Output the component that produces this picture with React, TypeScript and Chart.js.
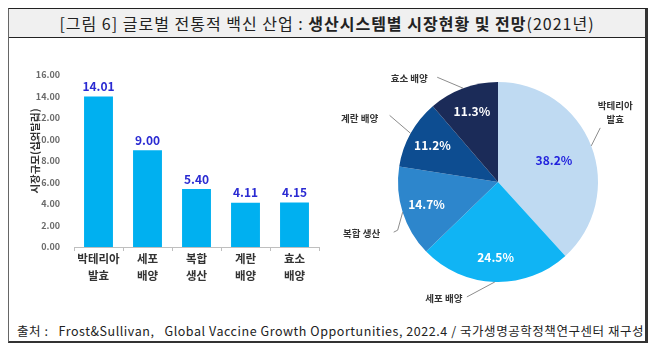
import React, { useEffect, useRef } from "react";
import { Chart, registerables } from "chart.js";

Chart.register(...registerables);

const barCategories: string[][] = [
  ["박테리아", "발효"],
  ["세포", "배양"],
  ["복합", "생산"],
  ["계란", "배양"],
  ["효소", "배양"],
];
const barValues: number[] = [14.01, 9.0, 5.4, 4.11, 4.15];
const yAxisTitle = "시장규모(십억달러)";

const pieLabels: string[][] = [
  ["박테리아", "발효"],
  ["세포 배양"],
  ["복합 생산"],
  ["계란 배양"],
  ["효소 배양"],
];
const pieValues: number[] = [38.2, 24.5, 14.7, 11.2, 11.3];
const pieColors: string[] = ["#bfdaf2", "#10b4f4", "#2d86cc", "#0d4d91", "#1b2b58"];

const titlePlain = "[그림 6] 글로벌 전통적 백신 산업 : ";
const titleBold = "생산시스템별 시장현황 및 전망";
const titleTail = "(2021년)";
const sourceText =
  "출처 :   Frost&Sullivan,   Global Vaccine Growth Opportunities, 2022.4 / 국가생명공학정책연구센터 재구성";

const FONT = "'Noto Sans CJK KR', 'Noto Sans', sans-serif";

// styling: leader line end and label center offsets from slice edge point
const leaderOffsets = [
  { lx: 9, ly: -18, tx: 24, ty: -33 },
  { lx: -28, ly: 15, tx: -51, ty: 16 },
  { lx: -5, ly: 18, tx: -41, ty: 21 },
  { lx: -21, ly: -18, tx: -51, ty: -15 },
  { lx: -26, ly: -11, tx: -54, ty: -10 },
];

function BarChart() {
  const ref = useRef<HTMLCanvasElement | null>(null);
  useEffect(() => {
    if (!ref.current) return;
    const valuePlugin = {
      id: "barValues",
      afterDatasetsDraw(chart: any) {
        const ctx = chart.ctx;
        const meta = chart.getDatasetMeta(0);
        ctx.save();
        ctx.font = `bold 12px ${FONT}`;
        ctx.fillStyle = "#2a2ad2";
        ctx.textAlign = "center";
        ctx.textBaseline = "middle";
        meta.data.forEach((el: any, i: number) => {
          ctx.fillText(barValues[i].toFixed(2), el.x, el.y - 10);
        });
        // y axis title
        ctx.translate(15, 96);
        ctx.rotate(-Math.PI / 2);
        ctx.font = `bold 10.5px ${FONT}`;
        ctx.fillStyle = "#333";
        ctx.fillText(yAxisTitle, 0, 0);
        ctx.restore();
      },
    };
    const chart = new Chart(ref.current, {
      type: "bar",
      data: {
        labels: barCategories,
        datasets: [
          {
            data: barValues,
            backgroundColor: "#00b0f0",
            barPercentage: 0.59,
            categoryPercentage: 1,
          },
        ],
      },
      options: {
        responsive: false,
        animation: false,
        layout: { padding: { top: 20, right: 11, left: 0, bottom: 0 } },
        plugins: { legend: { display: false }, tooltip: { enabled: false } },
        scales: {
          x: {
            grid: {
              display: true,
              drawOnChartArea: false,
              offset: true,
              tickLength: 4,
              color: "#bfbfbf",
            },
            border: { color: "#bfbfbf" },
            ticks: {
              font: { family: FONT, size: 11.5, weight: "bold", lineHeight: 1.4 },
              color: "#333",
              padding: 0,
              maxRotation: 0,
            },
            afterFit: (s: any) => {
              s.height = 43;
            },
          },
          y: {
            min: 0,
            max: 16,
            grid: { display: false },
            border: { display: false },
            ticks: {
              stepSize: 2,
              callback: (v: any) => Number(v).toFixed(2),
              font: { family: FONT, size: 9, weight: "bold" },
              color: "#6a6a6a",
              padding: 6,
            },
            afterFit: (s: any) => {
              s.width = 54;
            },
          },
        },
      } as any,
      plugins: [valuePlugin],
    });
    return () => chart.destroy();
  }, []);
  return (
    <canvas
      ref={ref}
      width={310}
      height={235}
      style={{ position: "absolute", left: 11, top: 46, width: 310, height: 235 }}
    />
  );
}

function PieChart() {
  const ref = useRef<HTMLCanvasElement | null>(null);
  useEffect(() => {
    if (!ref.current) return;
    const labelPlugin = {
      id: "pieLabels",
      afterDatasetsDraw(chart: any) {
        const ctx = chart.ctx;
        const meta = chart.getDatasetMeta(0);
        const total = pieValues.reduce((a, b) => a + b, 0);
        ctx.save();
        meta.data.forEach((arc: any, i: number) => {
          const mid = (arc.startAngle + arc.endAngle) / 2;
          const r = arc.outerRadius;
          const f = i === 0 ? 0.6 : 0.75;
          ctx.font = `bold 12px ${FONT}`;
          ctx.fillStyle = i === 0 ? "#2222dd" : "#ffffff";
          ctx.textAlign = "center";
          ctx.textBaseline = "middle";
          const pct = ((pieValues[i] / total) * 100).toFixed(1) + "%";
          ctx.fillText(pct, arc.x + Math.cos(mid) * r * f, arc.y + Math.sin(mid) * r * f);

          const ex = arc.x + Math.cos(mid) * r;
          const ey = arc.y + Math.sin(mid) * r;
          const o = leaderOffsets[i];
          ctx.strokeStyle = "#8c8c8c";
          ctx.lineWidth = 1;
          ctx.beginPath();
          ctx.moveTo(ex, ey);
          ctx.lineTo(ex + o.lx, ey + o.ly);
          if (i === 2) ctx.lineTo(ex + o.lx - 4, ey + o.ly + 2);
          ctx.stroke();

          ctx.font = `bold 9.5px ${FONT}`;
          ctx.fillStyle = "#333";
          const lines = pieLabels[i];
          const lh = 14;
          lines.forEach((ln, k) => {
            ctx.fillText(ln, ex + o.tx, ey + o.ty + (k - (lines.length - 1) / 2) * lh);
          });
        });
        ctx.restore();
      },
    };
    const chart = new Chart(ref.current, {
      type: "pie",
      data: {
        labels: pieLabels.map((l) => l.join(" ")),
        datasets: [{ data: pieValues, backgroundColor: pieColors, borderWidth: 0 }],
      },
      options: {
        responsive: false,
        animation: false,
        layout: { padding: { left: 58, right: 47, top: 32, bottom: 28 } },
        plugins: { legend: { display: false }, tooltip: { enabled: false } },
      } as any,
      plugins: [labelPlugin],
    });
    return () => chart.destroy();
  }, []);
  return (
    <canvas
      ref={ref}
      width={305}
      height={260}
      style={{ position: "absolute", left: 331, top: 41, width: 305, height: 260 }}
    />
  );
}

export default function App() {
  return (
    <div
      style={{
        position: "relative",
        width: 640,
        height: 335,
        boxSizing: "border-box",
        borderTop: "1px solid #222",
        borderLeft: "1px solid #666",
        borderRight: "3px solid #333",
        borderBottom: "2px solid #333",
        background: "#fff",
        fontFamily: FONT,
      }}
    >
      <div
        style={{
          position: "absolute",
          left: 0,
          top: 0,
          width: 636,
          height: 29,
          boxSizing: "border-box",
          background: "#f0f0f0",
          borderBottom: "1px solid #222",
          textAlign: "center",
          lineHeight: "28px",
          fontSize: 16,
          letterSpacing: "1px",
          color: "#222",
          whiteSpace: "pre",
        }}
      >
        {titlePlain}
        <b>{titleBold}</b>
        {titleTail}
      </div>
      <BarChart />
      <PieChart />
      <div
        style={{
          position: "absolute",
          left: 8,
          top: 314,
          height: 16,
          lineHeight: "16px",
          fontSize: 12.5,
          letterSpacing: "0.55px",
          color: "#222",
          whiteSpace: "pre",
        }}
      >
        {sourceText}
      </div>
    </div>
  );
}
